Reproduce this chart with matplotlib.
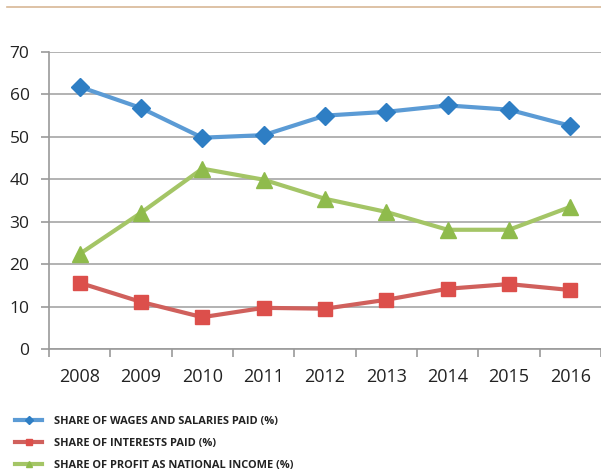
import numpy as np
import matplotlib.pyplot as plt
from matplotlib.lines import Line2D

plt.rcParams['font.family'] = ['Open Sans', 'DejaVu Sans']

years = ['2008', '2009', '2010', '2011', '2012', '2013', '2014', '2015', '2016']
wages = [61.8, 56.8, 49.8, 50.4, 55.0, 55.9, 57.4, 56.4, 52.6]
interests = [15.6, 11.1, 7.5, 9.7, 9.5, 11.6, 14.2, 15.3, 13.9]
profit = [22.4, 32.1, 42.5, 39.9, 35.4, 32.3, 28.1, 28.1, 33.5]

labels = ['SHARE OF WAGES AND SALARIES PAID (%)',
          'SHARE OF INTERESTS PAID (%)',
          'SHARE OF PROFIT AS NATIONAL INCOME (%)']

fig = plt.figure(figsize=(6.01, 4.76), dpi=100)
ax = fig.add_axes([0.0815, 0.2668, 0.9185, 0.624])

x = np.arange(len(years))
ax.plot(x, wages, color='#5b9bd5', lw=3, marker='D', ms=9,
        mfc='#2e7ec4', mec='#2e7ec4', zorder=3)
ax.plot(x, interests, color='#d0605c', lw=3, marker='s', ms=10,
        mfc='#dc4f4b', mec='#dc4f4b', zorder=3)
ax.plot(x, profit, color='#a4c566', lw=3, marker='^', ms=11,
        mfc='#8fbb4c', mec='#8fbb4c', zorder=3)

ax.set_xlim(-0.5, 8.5)
ax.set_ylim(0, 70)
ax.set_yticks(range(0, 71, 10))
ax.set_xticks(x)
ax.set_xticklabels(years)
ax.set_xticks(np.arange(-0.5, 8.6, 1), minor=True)
ax.tick_params(axis='x', which='major', length=0, labelsize=13, pad=14, labelcolor='#222222')
ax.tick_params(axis='x', which='minor', length=6, color='#9a9a9a', width=1.2)
ax.tick_params(axis='y', length=6, color='#9a9a9a', width=1.2, labelsize=12.5,
               pad=8, labelcolor='#222222')
ax.grid(axis='y', color='#a6a6a6', lw=1.2)
ax.set_axisbelow(True)
for s in ['top', 'right']:
    ax.spines[s].set_visible(False)
for s in ['left', 'bottom']:
    ax.spines[s].set_color('#9a9a9a')
    ax.spines[s].set_linewidth(1.2)

# tan rule at the top
fig.add_artist(Line2D([7 / 601, 1], [1 - 7 / 476, 1 - 7 / 476],
                      color='#d8b896', lw=1.2))

# legend entries with short markers
handles = [Line2D([], [], color='#5b9bd5', lw=3, marker='D', ms=4, mfc='#2e7ec4', mec='#2e7ec4'),
           Line2D([], [], color='#d0605c', lw=3, marker='s', ms=5, mfc='#dc4f4b', mec='#dc4f4b'),
           Line2D([], [], color='#a4c566', lw=3, marker='^', ms=5, mfc='#8fbb4c', mec='#8fbb4c')]
fig.legend(handles, labels, loc='upper left', bbox_to_anchor=(15 / 601, 1 - 416 / 476),
           frameon=False, prop={'size': 7.9, 'weight': 'bold'}, handlelength=2.5,
           labelspacing=1.0, handletextpad=1.1, borderaxespad=0, borderpad=0,
           labelcolor='#222222')

fig.savefig('out.png', dpi=100)
